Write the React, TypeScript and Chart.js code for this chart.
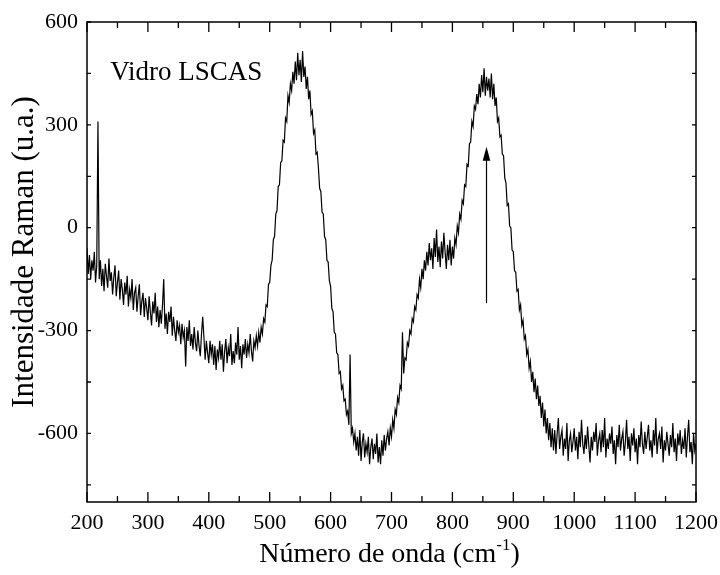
import { useEffect, useRef } from "react";
import { Chart, registerables } from "chart.js";

Chart.register(...registerables);

// Raman spectrum, sampled every 2 cm-1 from 200 to 1200 cm-1
const WAVENUMBER_START = 200;
const WAVENUMBER_STEP = 2;
const INTENSITY: number[] = [
  -60, -135, -80, -150, -95, -125, -70, -160, -110, 310,
  -150, -95, -170, -120, -185, -105, -140, -175, -90, -155,
  -130, -195, -145, -110, -200, -160, -125, -210, -150, -180,
  -225, -160, -195, -140, -230, -180, -205, -150, -240, -190,
  -175, -245, -200, -165, -255, -215, -190, -260, -205, -235,
  -270, -200, -245, -285, -215, -250, -190, -275, -230, -290,
  -240, -280, -225, -150, -295, -250, -310, -245, -275, -230,
  -315, -260, -300, -330, -270, -305, -285, -340, -280, -320,
  -300, -405, -290, -330, -270, -345, -310, -355, -290, -335,
  -360, -300, -345, -375, -310, -260, -320, -385, -330, -365,
  -395, -330, -370, -340, -400, -345, -415, -355, -380, -330,
  -385, -340, -420, -360, -325, -395, -350, -375, -310, -400,
  -360, -395, -335, -370, -290, -385, -345, -410, -340, -370,
  -325, -380, -340, -365, -310, -360, -390, -330, -350, -315,
  -345, -305, -335, -290, -310, -265, -275, -225, -230, -165,
  -160, -110, -95, -35, -25, 40, 50, 120, 125, 190,
  195, 255, 250, 320, 310, 385, 365, 420, 400, 455,
  420, 485, 430, 510, 445, 490, 425, 515, 440, 470,
  405, 440, 375, 400, 330, 340, 275, 285, 215, 220,
  175, 115, 105, 45, 40, -25, -35, -95, -100, -155,
  -170, -235, -245, -305, -310, -365, -370, -425, -420, -470,
  -460, -505, -500, -545, -535, -575, -370, -600, -585, -625,
  -600, -650, -610, -665, -590, -680, -625, -600, -670, -630,
  -655, -610, -690, -640, -615, -675, -630, -660, -600, -685,
  -640, -690, -620, -665, -605, -650, -615, -595, -635, -585,
  -610, -560, -585, -530, -545, -495, -510, -460, -470, -305,
  -425, -380, -385, -335, -345, -300, -310, -265, -275, -230,
  -240, -195, -205, -150, -175, -120, -150, -95, -125, -70,
  -110, -45, -95, -60, -120, -30, -85, -5, -100, -55,
  -115, -40, -90, -15, -70, -120, -50, -95, -35, -110,
  -55, -90, -30, -50, 5, -15, 40, 25, 80, 70,
  125, 120, 185, 180, 245, 250, 310, 295, 355, 345,
  390, 360, 420, 380, 445, 395, 465, 385, 440, 400,
  435, 380, 450, 375, 420, 355, 380, 310, 320, 265,
  270, 215, 210, 145, 130, 65, 70, 5, 0, -65,
  -70, -125, -130, -185, -180, -240, -225, -285, -270, -325,
  -315, -370, -355, -410, -390, -450, -420, -480, -440, -500,
  -460, -520, -490, -555, -510, -580, -530, -600, -555, -620,
  -570, -640, -585, -650, -590, -660, -600, -555, -645, -610,
  -590, -665, -615, -645, -570, -680, -620, -600, -655, -625,
  -585, -650, -610, -675, -595, -640, -560, -630, -660, -605,
  -645, -580, -635, -685, -610, -650, -595, -625, -570, -665,
  -620, -600, -655, -590, -640, -555, -670, -615, -645, -600,
  -630, -580, -660, -620, -690, -605, -640, -575, -650, -615,
  -595, -665, -625, -560, -645, -610, -680, -600, -635, -585,
  -655, -615, -690, -605, -640, -565, -630, -660, -595, -645,
  -610, -575, -650, -620, -670, -590, -635, -555, -660, -615,
  -600, -645, -580, -685, -620, -650, -595, -630, -665, -605,
  -640, -570, -655, -615, -680, -600, -635, -590, -660, -620,
  -645, -585, -670, -610, -560, -655, -625, -690, -600, -650,
  -630,
];
const WAVENUMBERS = INTENSITY.map((_, i) => WAVENUMBER_START + i * WAVENUMBER_STEP);

const X_MIN = 200;
const X_MAX = 1200;
const Y_MIN = -800;
const Y_MAX = 600;
const X_TICKS = [200, 250, 300, 350, 400, 450, 500, 550, 600, 650, 700, 750, 800, 850, 900, 950, 1000, 1050, 1100, 1150, 1200];
const X_LABELED = [200, 300, 400, 500, 600, 700, 800, 900, 1000, 1100, 1200];
const Y_TICKS = [-750, -600, -450, -300, -150, 0, 150, 300, 450, 600];
const Y_LABELED = [-600, -300, 0, 300, 600];

const SAMPLE_LABEL = "Vidro LSCAS";
const SAMPLE_LABEL_X = 238;
const SAMPLE_LABEL_Y = 451;

const ARROW_X = 856;
const ARROW_FROM = -220;
const ARROW_TO = 236;

const X_TITLE_MAIN = "Número de onda (cm";
const X_TITLE_SUP = "-1";
const X_TITLE_END = ")";
const Y_TITLE = "Intensidade Raman (u.a.)";

const FONT = "'Liberation Serif', 'Times New Roman', serif";

const decorPlugin = {
  id: "decor",
  afterDraw(chart: any) {
    const ctx = chart.ctx as CanvasRenderingContext2D;
    const xs = chart.scales.x;
    const ys = chart.scales.y;
    const { left, right, top, bottom } = chart.chartArea;
    ctx.save();
    ctx.strokeStyle = "#000";
    ctx.fillStyle = "#000";

    // frame
    ctx.lineWidth = 1.5;
    ctx.strokeRect(left, top, right - left, bottom - top);

    // ticks (inward)
    ctx.lineWidth = 1.3;
    ctx.beginPath();
    for (const v of X_TICKS) {
      const px = xs.getPixelForValue(v);
      const len = X_LABELED.includes(v) ? 10 : 6;
      ctx.moveTo(px, bottom);
      ctx.lineTo(px, bottom - len);
      ctx.moveTo(px, top);
      ctx.lineTo(px, top + len);
    }
    for (const v of Y_TICKS) {
      const py = ys.getPixelForValue(v);
      const len = 4;
      ctx.moveTo(left, py);
      ctx.lineTo(left + len, py);
      ctx.moveTo(right, py);
      ctx.lineTo(right - len, py);
    }
    ctx.stroke();

    // arrow
    const ax = xs.getPixelForValue(ARROW_X);
    const ay0 = ys.getPixelForValue(ARROW_FROM);
    const ay1 = ys.getPixelForValue(ARROW_TO);
    ctx.lineWidth = 1.2;
    ctx.beginPath();
    ctx.moveTo(ax, ay0);
    ctx.lineTo(ax, ay1 + 10);
    ctx.stroke();
    ctx.beginPath();
    ctx.moveTo(ax, ay1);
    ctx.lineTo(ax - 3.8, ay1 + 14);
    ctx.lineTo(ax + 3.8, ay1 + 14);
    ctx.closePath();
    ctx.fill();

    // sample label
    ctx.font = `27px ${FONT}`;
    ctx.textAlign = "left";
    ctx.textBaseline = "middle";
    ctx.fillText(SAMPLE_LABEL, xs.getPixelForValue(SAMPLE_LABEL_X), ys.getPixelForValue(SAMPLE_LABEL_Y));

    // x title with superscript
    const mainFont = `28px ${FONT}`;
    const supFont = `17px ${FONT}`;
    ctx.font = mainFont;
    const w1 = ctx.measureText(X_TITLE_MAIN).width;
    const w3 = ctx.measureText(X_TITLE_END).width;
    ctx.font = supFont;
    const w2 = ctx.measureText(X_TITLE_SUP).width;
    const total = w1 + w2 + w3;
    const cx = (left + right) / 2 - 2;
    let sx = cx - total / 2;
    const base = 562;
    ctx.textAlign = "left";
    ctx.textBaseline = "alphabetic";
    ctx.font = mainFont;
    ctx.fillText(X_TITLE_MAIN, sx, base);
    sx += w1;
    ctx.font = supFont;
    ctx.fillText(X_TITLE_SUP, sx, base - 12);
    sx += w2;
    ctx.font = mainFont;
    ctx.fillText(X_TITLE_END, sx, base);

    // y title
    ctx.save();
    ctx.translate(25, (top + bottom) / 2 - 10);
    ctx.rotate(-Math.PI / 2);
    ctx.font = `31px ${FONT}`;
    ctx.textAlign = "center";
    ctx.textBaseline = "middle";
    ctx.fillText(Y_TITLE, 0, 0);
    ctx.restore();

    ctx.restore();
  },
};

export default function App() {
  const canvasRef = useRef<HTMLCanvasElement | null>(null);

  useEffect(() => {
    const canvas = canvasRef.current;
    if (!canvas) return;
    const points = WAVENUMBERS.map((x, i) => ({ x, y: INTENSITY[i] }));
    const chart = new Chart(canvas, {
      type: "line",
      data: {
        datasets: [
          {
            data: points,
            borderColor: "#000",
            borderWidth: 1.2,
            pointRadius: 0,
            tension: 0,
            fill: false,
          },
        ],
      },
      options: {
        responsive: false,
        animation: false,
        events: [],
        parsing: false,
        layout: { padding: { left: 0, top: 22, right: 24, bottom: 0 } },
        plugins: {
          legend: { display: false },
          tooltip: { enabled: false },
          title: { display: false },
        },
        scales: {
          x: {
            type: "linear",
            min: X_MIN,
            max: X_MAX,
            grid: { display: false, drawTicks: false },
            border: { display: false },
            afterBuildTicks: (scale: any) => {
              scale.ticks = X_TICKS.map((value) => ({ value }));
            },
            afterFit: (scale: any) => {
              scale.height = 73;
              scale.paddingLeft = 0;
              scale.paddingRight = 0;
            },
            ticks: {
              autoSkip: false,
              maxRotation: 0,
              minRotation: 0,
              padding: 8,
              color: "#000",
              font: { family: FONT, size: 22 },
              callback: (value: any) => (X_LABELED.includes(Number(value)) ? String(value) : ""),
            },
          },
          y: {
            type: "linear",
            min: Y_MIN,
            max: Y_MAX,
            grid: { display: false, drawTicks: false },
            border: { display: false },
            afterBuildTicks: (scale: any) => {
              scale.ticks = Y_TICKS.map((value) => ({ value }));
            },
            afterFit: (scale: any) => {
              scale.width = 87;
              scale.paddingTop = 0;
              scale.paddingBottom = 0;
            },
            ticks: {
              autoSkip: false,
              padding: 9,
              color: "#000",
              font: { family: FONT, size: 22 },
              callback: (value: any) => (Y_LABELED.includes(Number(value)) ? String(value) : ""),
            },
          },
        },
      },
      plugins: [decorPlugin],
    });
    return () => chart.destroy();
  }, []);

  return (
    <div style={{ position: "fixed", left: 0, top: 0, width: 720, height: 575, background: "#fff" }}>
      <canvas ref={canvasRef} width={720} height={575} style={{ display: "block" }} />
    </div>
  );
}
